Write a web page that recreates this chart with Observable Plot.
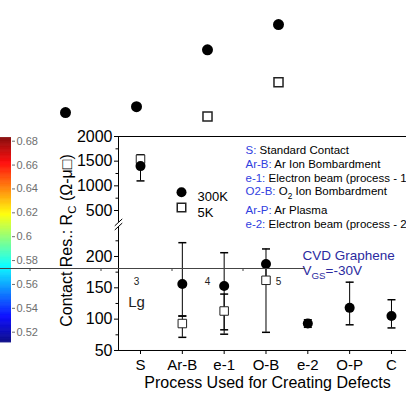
<!DOCTYPE html>
<html>
<head>
<meta charset="utf-8">
<script src="https://cdn.jsdelivr.net/npm/d3@7"></script>
<script src="https://cdn.jsdelivr.net/npm/@observablehq/plot@0.6"></script>
<style>
  body { margin: 0; background: #fff; }
  #wrap { position: relative; width: 406px; height: 400px; overflow: hidden; background: #fff; }
  #wrap svg { position: absolute; left: 0; top: 0; }
</style>
</head>
<body>
<div id="wrap"></div>
<script>
const FONT = '"Liberation Sans", Arial, sans-serif';

// ---- Contact resistance vs. defect-creation process ----
const processes = ["S", "Ar-B", "e-1", "O-B", "e-2", "O-P", "C"];
// 300 K: value and error-bar extents (Ω·μm)
const rc300 = [1400, 156, 153, 188, 93, 118, 105];
const rc300Low = [1100, 105, 76, 164, 87, 91, 86];
const rc300High = [1630, 222, 206, 212, 99, 159, 131];
// 5 K: measured for the first four processes only
const rc5 = [1540, 93, 113, 162, null, null, null];
const rc5Low = [null, 71, 83, 79, null, null, null];
const rc5High = [null, 105, 140, 190, null, null, null];

const yMajorTicks = [50, 100, 150, 200, 500, 1000, 1500, 2000];
const yMinorTicks = [75, 125, 175, 225, 750, 1250, 1750];

// Process legend (code | description); "_{..}" marks a subscript
const processNotes = [
  ["S: ", "Standard Contact"],
  ["Ar-B: ", "Ar Ion Bombardment"],
  ["e-1: ", "Electron beam (process - 1)"],
  ["O2-B: ", "O_{2} Ion Bombardment"],
  ["Ar-P: ", "Ar Plasma"],
  ["e-2: ", "Electron beam (process - 2)"]
];

// ---- Channel-length panel (Lg axis) ----
const lgTicks = [3, 4, 5];
const lgMinorTicks = [1.5, 2.5, 3.5, 4.5];
const lg300X = [2, 3, 4, 5];
const lg300Y = [58.2, 60.4, 81.6, 91.0];
const lg5X = [4, 5];
const lg5Y = [56.7, 69.5];

// ---- Colour bar ----
const cbTicks = [0.52, 0.54, 0.56, 0.58, 0.6, 0.62, 0.64, 0.66, 0.68];
const cbExtent = [0.511, 0.683];
const jetColors = ["#00007f", "#0000ff", "#007fff", "#00ffff", "#7fff7f", "#ffff00", "#ff7f00", "#ff0000", "#7f0000"];

const wrap = document.getElementById("wrap");
const idx = processes.map((_, i) => i);

// horizontal cap symbol for error bars
const capSymbol = {
  draw(context, size) {
    const w = Math.sqrt(size / Math.PI);
    context.moveTo(-w, 0);
    context.lineTo(w, 0);
  }
};

// Turn "head|body" into a blue head, and "_{x}" into subscripts
function richText(svg, blue) {
  for (const el of svg.querySelectorAll("text")) {
    const s = el.textContent;
    if (!s.includes("_{") && !s.includes("|")) continue;
    const holder = el.closest("[font-size]");
    const fs = holder ? parseFloat(holder.getAttribute("font-size")) : 12;
    el.textContent = "";
    let head = null, body = s;
    if (s.includes("|")) [head, body] = s.split("|");
    const ns = "http://www.w3.org/2000/svg";
    if (head) {
      const t = document.createElementNS(ns, "tspan");
      t.setAttribute("fill", blue);
      t.textContent = head;
      el.appendChild(t);
    }
    const re = /_\{([^}]*)\}/g;
    let last = 0, m, shifted = false;
    const push = (txt, sub) => {
      if (!txt) return;
      const t = document.createElementNS(ns, "tspan");
      if (sub) {
        t.setAttribute("font-size", fs * 0.72);
        t.setAttribute("dy", fs * 0.28);
        shifted = true;
      } else if (shifted) {
        t.setAttribute("dy", -fs * 0.28);
        shifted = false;
      }
      t.textContent = txt;
      el.appendChild(t);
    };
    while ((m = re.exec(body))) {
      push(body.slice(last, m.index), false);
      push(m[1], true);
      last = m.index + m[0].length;
    }
    push(body.slice(last), false);
  }
}

// ---------- Lg panel (bottom layer) ----------
const lgPx = 71; // pixels per unit of Lg
const lgDomain = [3 - 136 / lgPx, 3 + 169 / lgPx];
const lgPanel = Plot.plot({
  width: 406, height: 400,
  marginLeft: 0, marginRight: 101, marginTop: 0, marginBottom: 132,
  x: { domain: lgDomain, label: null },
  y: { domain: [0, 100], label: null, axis: null },
  style: { background: "transparent", fontFamily: FONT },
  marks: [
    Plot.axisX(lgMinorTicks, { tickSize: 3, tickFormat: () => "", stroke: "#444" }),
    Plot.axisX(lgTicks, { tickSize: 0, tickPadding: 9, fontSize: 10, tickFormat: d => String(d), fill: "#222" }),
    Plot.text(["Lg"], { x: 3, frameAnchor: "bottom", dy: 38, fontSize: 15, fill: "#222" }),
    Plot.dot(lg5X, { x: d => d, y: (d, i) => lg5Y[i], symbol: "square", r: 5.1, fill: "white", stroke: "#222" }),
    Plot.dot(lg300X, { x: d => d, y: (d, i) => lg300Y[i], r: 5.5, fill: "black" })
  ]
});
wrap.appendChild(lgPanel);

// ---------- colour bar ----------
const jet = d3.piecewise(d3.interpolateRgb, jetColors);
const cbStep = 0.001;
const cbStops = d3.range(cbExtent[0], cbExtent[1], cbStep);
const colorbar = Plot.plot({
  width: 406, height: 400,
  marginLeft: 0, marginRight: 395, marginTop: 0, marginBottom: 0,
  x: { domain: [0, 1], label: null, axis: null },
  y: { type: "linear", domain: [0.52, 0.68], range: [331.7, 140.7], label: null },
  color: { type: "linear", domain: cbExtent, interpolate: jet },
  style: { background: "transparent", fontFamily: FONT },
  marks: [
    Plot.rect(cbStops, { x1: 0, x2: 1, y1: d => d, y2: d => Math.min(d + cbStep * 1.6, cbExtent[1]), fill: d => d + cbStep / 2, fillOpacity: 0.88 }),
    Plot.axisY(cbTicks, { anchor: "right", tickSize: 3, tickPadding: 2, fontSize: 11, color: "#6e6e6e", tickFormat: d => String(d) })
  ]
});
wrap.appendChild(colorbar);

// ---------- main chart: contact resistance by process ----------
const xDom = [(118 - 140) / 41.83, (406 - 140) / 41.83];
const x0 = xDom[0];
const rows300 = idx.map(i => ({ i, v: rc300[i], lo: rc300Low[i], hi: rc300High[i] }));
const rows5 = idx.filter(i => rc5[i] != null).map(i => ({ i, v: rc5[i], lo: rc5Low[i], hi: rc5High[i] }));
const bars5 = rows5.filter(d => d.lo != null);
const caps = [
  ...rows300.flatMap(d => [{ i: d.i, y: d.lo }, { i: d.i, y: d.hi }]),
  ...bars5.flatMap(d => [{ i: d.i, y: d.lo }, { i: d.i, y: d.hi }])
];
const noteOffsets = [9, 23, 37, 50.7, 69, 83];
const noteBlue = "#3041e0";

const main = Plot.plot({
  width: 406, height: 400,
  marginLeft: 118, marginRight: 0, marginTop: 136, marginBottom: 50,
  x: { type: "linear", domain: xDom, label: null },
  // broken axis: a piecewise linear scale with a gap between 240 and 330
  y: { type: "linear", domain: [45, 240, 330, 2000], range: [353.13, 230.9, 218.4, 136], label: null },
  style: { background: "transparent", fontFamily: FONT, color: "black" },
  marks: [
    // frame lines and broken left axis
    Plot.ruleY([2000], { stroke: "black" }),
    Plot.ruleY([50], { stroke: "black" }),
    Plot.ruleX([x0], { y1: 50, y2: 275, stroke: "black" }),
    Plot.ruleX([x0], { y1: 305, y2: 2000, stroke: "black" }),
    Plot.link([[250, 300], [280, 330]], { x1: x0 - 0.09, x2: x0 + 0.09, y1: d => d[0], y2: d => d[1], stroke: "black" }),
    // axes
    Plot.axisY(yMajorTicks, { tickSize: 4, tickPadding: 2, fontSize: 16, tickFormat: d => String(d) }),
    Plot.axisY(yMinorTicks, { tickSize: 2.5, tickFormat: () => "" }),
    Plot.axisX(idx, { tickSize: 4, tickPadding: 5, fontSize: 15, tickFormat: i => processes[i] }),
    Plot.text(["Process Used for Creating Defects"], { frameAnchor: "bottom", dx: 5, dy: 37, fontSize: 16 }),
    Plot.text(["Contact Res.: R_{C} (Ω-μ□)"], { frameAnchor: "left", textAnchor: "middle", rotate: -90, dx: -52, dy: -3, fontSize: 16 }),
    // error bars
    Plot.ruleX(rows300, { x: "i", y1: "lo", y2: "hi", stroke: "black" }),
    Plot.ruleX(bars5, { x: "i", y1: "lo", y2: "hi", stroke: "black" }),
    Plot.dot(caps, { x: "i", y: "y", symbol: capSymbol, r: 4, stroke: "black", fill: "none" }),
    // markers
    Plot.dot(rows5, { x: "i", y: "v", symbol: "square", r: 4.8, fill: "white", stroke: "#222", strokeWidth: 1 }),
    Plot.dot(rows300, { x: "i", y: "v", r: 5, fill: "black" }),
    // legend
    Plot.dot([0], { frameAnchor: "top-left", dx: 63, dy: 55.7, r: 5, fill: "black" }),
    Plot.dot([0], { frameAnchor: "top-left", dx: 63, dy: 71, r: 4.8, symbol: "square", fill: "white", stroke: "#222" }),
    Plot.text(["300K"], { frameAnchor: "top-left", dx: 79, dy: 55.7, textAnchor: "start", fontSize: 13 }),
    Plot.text(["5K"], { frameAnchor: "top-left", dx: 79, dy: 71, textAnchor: "start", fontSize: 13 }),
    // process descriptions
    ...processNotes.map((d, k) =>
      Plot.text([d[0] + "|" + d[1]], { frameAnchor: "top-left", dx: 127, dy: noteOffsets[k], textAnchor: "start", fontSize: 11.5, fill: "black" })
    ),
    Plot.text(["CVD Graphene"], { frameAnchor: "top-left", dx: 184, dy: 114, textAnchor: "start", fontSize: 13.5, fill: "#2b2ba0" }),
    Plot.text(["V_{GS}=-30V"], { frameAnchor: "top-left", dx: 184, dy: 129, textAnchor: "start", fontSize: 13.5, fill: "#2b2ba0" })
  ]
});
richText(main, noteBlue);
wrap.appendChild(main);

// ---------- Lg axis line (drawn last so it crosses the other layers) ----------
const lgLine = Plot.plot({
  width: 406, height: 400,
  marginLeft: 0, marginRight: 101, marginTop: 0, marginBottom: 132,
  x: { domain: lgDomain, label: null, axis: null },
  y: { domain: [0, 100], label: null, axis: null },
  style: { background: "transparent", fontFamily: FONT },
  marks: [Plot.ruleY([0], { stroke: "#444" })]
});
wrap.appendChild(lgLine);
</script>
</body>
</html>
